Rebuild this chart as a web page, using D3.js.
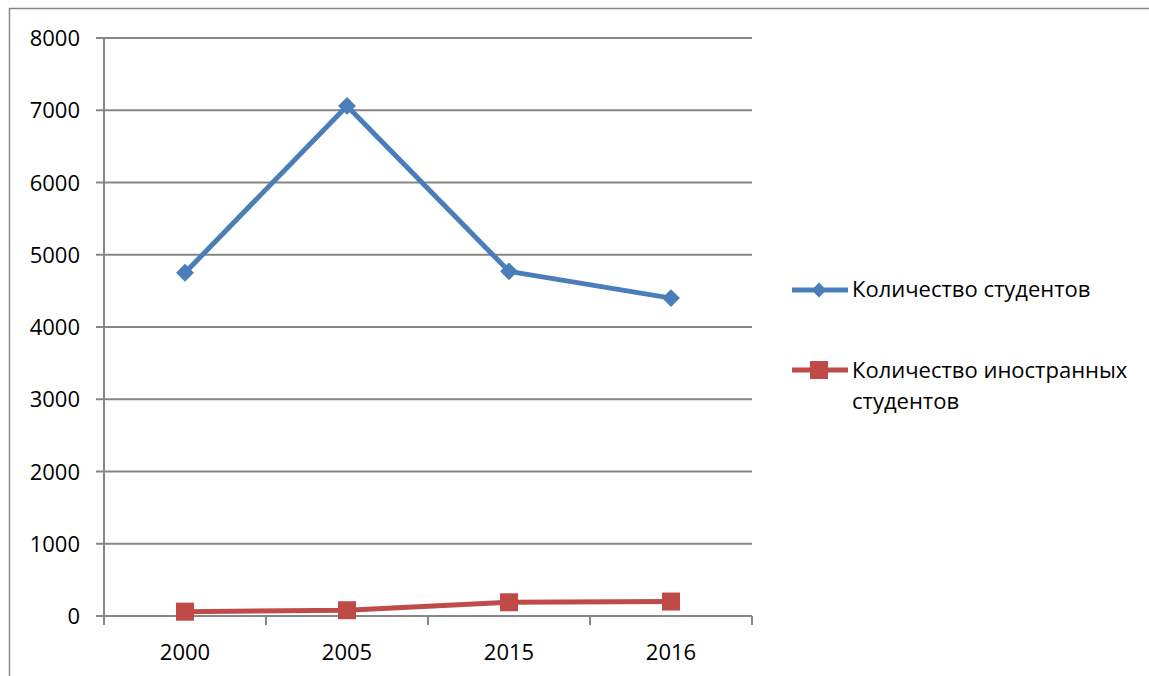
<!DOCTYPE html>
<html>
<head>
<meta charset="utf-8">
<script src="https://d3js.org/d3.v7.min.js"></script>
<style>
  body { margin: 0; background: #fff; }
  svg { display: block; font-family: "Open Sans", "Noto Sans", sans-serif; }
</style>
</head>
<body>
<svg id="chart" width="1149" height="676"></svg>
<script>
const years = ["2000", "2005", "2015", "2016"];
const students = [4750, 7060, 4770, 4400];
const foreignStudents = [60, 80, 190, 200];
const yTicks = [0, 1000, 2000, 3000, 4000, 5000, 6000, 7000, 8000];
const seriesNames = ["Количество студентов", ["Количество иностранных", "студентов"]];

const svg = d3.select("#chart");
const BLUE = "#4a7ebb";
const RED = "#be4b48";
const GRID = "#868686";
const FS = 22;

// outer frame (cut at right/bottom like the screenshot)
svg.append("path")
    .attr("d", "M9.5,680 V8.5 H1160")
    .attr("fill", "none")
    .attr("stroke", GRID)
    .attr("stroke-width", 1.5);

const x = d3.scaleBand().domain(years).range([104, 752]);
const y = d3.scaleLinear().domain([0, 8000]).range([616, 38]);

// gridlines
svg.append("g")
    .selectAll("line")
    .data(yTicks)
    .enter().append("line")
    .attr("x1", 96).attr("x2", 752)
    .attr("y1", d => y(d)).attr("y2", d => y(d))
    .attr("stroke", GRID).attr("stroke-width", 2);

// y axis line
svg.append("line")
    .attr("x1", 104).attr("x2", 104)
    .attr("y1", y(8000)).attr("y2", y(0))
    .attr("stroke", GRID).attr("stroke-width", 2);

// y labels
svg.append("g")
    .selectAll("text")
    .data(yTicks)
    .enter().append("text")
    .attr("x", 80)
    .attr("y", d => y(d) + 8)
    .attr("text-anchor", "end")
    .attr("font-size", FS)
    .attr("fill", "#000")
    .text(d => d);

// x tick marks at band edges
const edges = years.map(d => x(d)).concat([x.range()[1]]);
svg.append("g")
    .selectAll("line")
    .data(edges)
    .enter().append("line")
    .attr("x1", d => d).attr("x2", d => d)
    .attr("y1", y(0)).attr("y2", y(0) + 9)
    .attr("stroke", GRID).attr("stroke-width", 2);

// x labels
svg.append("g")
    .selectAll("text")
    .data(years)
    .enter().append("text")
    .attr("x", d => x(d) + x.bandwidth() / 2)
    .attr("y", 660)
    .attr("text-anchor", "middle")
    .attr("font-size", FS)
    .attr("fill", "#000")
    .text(d => d);

const line = d3.line()
    .x((d, i) => x(years[i]) + x.bandwidth() / 2)
    .y(d => y(d));

// blue series
svg.append("path")
    .datum(students)
    .attr("fill", "none")
    .attr("stroke", BLUE)
    .attr("stroke-width", 5)
    .attr("stroke-linejoin", "round")
    .attr("d", line);

const diamond = d3.symbol().type(d3.symbolSquare).size(160);
svg.append("g")
    .selectAll("path")
    .data(students)
    .enter().append("path")
    .attr("d", diamond)
    .attr("transform", (d, i) => `translate(${x(years[i]) + x.bandwidth() / 2},${y(d)}) rotate(45)`)
    .attr("fill", BLUE);

// red series
svg.append("path")
    .datum(foreignStudents)
    .attr("fill", "none")
    .attr("stroke", RED)
    .attr("stroke-width", 5)
    .attr("stroke-linejoin", "round")
    .attr("d", line);

svg.append("g")
    .selectAll("rect")
    .data(foreignStudents)
    .enter().append("rect")
    .attr("x", (d, i) => x(years[i]) + x.bandwidth() / 2 - 9)
    .attr("y", d => y(d) - 9)
    .attr("width", 18)
    .attr("height", 18)
    .attr("fill", RED);

// legend
const legend = svg.append("g");
legend.append("line")
    .attr("x1", 792).attr("x2", 848).attr("y1", 290).attr("y2", 290)
    .attr("stroke", BLUE).attr("stroke-width", 5);
legend.append("path")
    .attr("d", d3.symbol().type(d3.symbolSquare).size(110))
    .attr("transform", "translate(819,290) rotate(45)")
    .attr("fill", BLUE);
legend.append("text")
    .attr("x", 852).attr("y", 297)
    .attr("font-size", FS)
    .text(seriesNames[0]);

legend.append("line")
    .attr("x1", 792).attr("x2", 848).attr("y1", 370).attr("y2", 370)
    .attr("stroke", RED).attr("stroke-width", 5);
legend.append("rect")
    .attr("x", 810).attr("y", 361).attr("width", 18).attr("height", 18)
    .attr("fill", RED);
const t2 = legend.append("text")
    .attr("x", 852).attr("y", 378)
    .attr("font-size", FS);
seriesNames[1].forEach((s, i) => {
    t2.append("tspan").attr("x", 852).attr("dy", i === 0 ? 0 : 31).text(s);
});
</script>
</body>
</html>
